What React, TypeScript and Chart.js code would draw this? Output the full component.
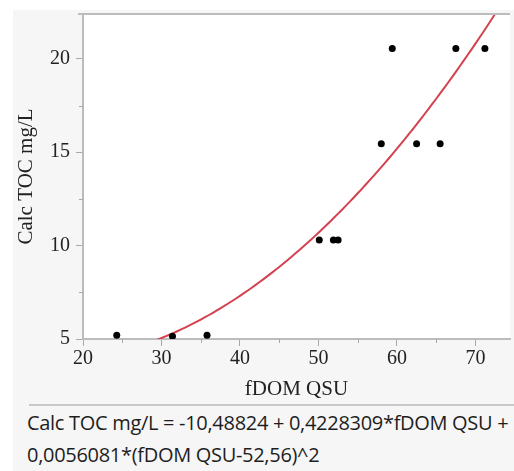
import React, { useEffect, useRef } from 'react';
import { Chart, registerables } from 'chart.js';

Chart.register(...registerables);

const fdomQsu = [24.3, 31.4, 35.8, 50.1, 51.9, 52.5, 58.0, 59.4, 62.5, 65.5, 67.5, 71.2];
const calcToc = [5.2, 5.15, 5.2, 10.3, 10.3, 10.3, 15.45, 20.55, 15.45, 15.45, 20.55, 20.55];

// Fitted quadratic model shown in the equation
const fitIntercept = -10.48824;
const fitSlope = 0.4228309;
const fitQuad = 0.0056081;
const fitCenter = 52.56;

const xMin = 20;
const xMax = 74.4;
const yMin = 5;
const yMax = 22.4;

const xMajorStep = 10;
const xMinorStep = 5;
const yMajorStep = 5;
const yMinorStep = 2.5;

const xTitle = 'fDOM QSU';
const yTitle = 'Calc TOC mg/L';
const equationLines = [
  'Calc TOC mg/L = -10,48824 + 0,4228309*fDOM QSU +',
  '0,0056081*(fDOM QSU-52,56)^2',
];

const fitCurve: { x: number; y: number }[] = [];
for (let i = 0; i <= 92; i++) {
  const x = 29 + i * 0.5;
  fitCurve.push({ x, y: fitIntercept + fitSlope * x + fitQuad * (x - fitCenter) * (x - fitCenter) });
}

const AXIS_GRAY = '#bcbcbc';
const TICK_GRAY = '#a8a8a8';
const SERIF = '"Liberation Serif", "Times New Roman", serif';

const extrasPlugin = {
  id: 'extras',
  afterDraw(chart: any) {
    const { ctx, chartArea } = chart;
    ctx.save();
    // top frame line
    ctx.strokeStyle = AXIS_GRAY;
    ctx.lineWidth = 2;
    ctx.beginPath();
    ctx.moveTo(chartArea.left - 5, chartArea.top);
    ctx.lineTo(chartArea.right, chartArea.top);
    ctx.stroke();
    // minor ticks
    ctx.strokeStyle = TICK_GRAY;
    ctx.lineWidth = 1;
    const xs = chart.scales.x;
    const ys = chart.scales.y;
    xs.ticks.forEach((t: any) => {
      if (t.value % xMajorStep !== 0) {
        const px = Math.round(xs.getPixelForValue(t.value)) + 0.5;
        ctx.beginPath();
        ctx.moveTo(px, chartArea.bottom);
        ctx.lineTo(px, chartArea.bottom + 4);
        ctx.stroke();
      }
    });
    ys.ticks.forEach((t: any) => {
      if (t.value % yMajorStep !== 0) {
        const py = Math.round(ys.getPixelForValue(t.value)) + 0.5;
        ctx.beginPath();
        ctx.moveTo(chartArea.left, py);
        ctx.lineTo(chartArea.left - 4, py);
        ctx.stroke();
      }
    });
    ctx.restore();
  },
};

export default function App() {
  const canvasRef = useRef<HTMLCanvasElement | null>(null);

  useEffect(() => {
    if (!canvasRef.current) return;
    const chart = new Chart(canvasRef.current, {
      type: 'scatter',
      data: {
        datasets: [
          {
            type: 'line',
            data: fitCurve,
            borderColor: '#d4414f',
            borderWidth: 2,
            pointRadius: 0,
            tension: 0,
            fill: false,
            clip: 0,
            order: 2,
          } as any,
          {
            type: 'scatter',
            data: fdomQsu.map((x, i) => ({ x, y: calcToc[i] })),
            backgroundColor: '#000',
            borderColor: '#000',
            pointRadius: 3.5,
            borderWidth: 0,
            order: 1,
          },
        ],
      },
      options: {
        animation: false,
        responsive: false,
        devicePixelRatio: 1,
        layout: { padding: { top: 3, right: 0, bottom: 0, left: 0 } },
        plugins: { legend: { display: false }, tooltip: { enabled: false } },
        scales: {
          x: {
            type: 'linear',
            min: xMin,
            max: xMax,
            afterFit: (s: any) => {
              s.height = 64;
              s.paddingLeft = 0;
              s.paddingRight = 0;
            },
            ticks: {
              stepSize: xMinorStep,
              includeBounds: false,
              autoSkip: false,
              maxRotation: 0,
              padding: 1,
              color: '#222',
              font: { family: SERIF, size: 20 },
              callback: (v: any) => (v % xMajorStep === 0 ? String(v) : ''),
            },
            grid: {
              drawOnChartArea: false,
              drawTicks: true,
              tickLength: 7,
              tickWidth: 1,
              tickColor: (c: any) => (c.tick && c.tick.value % xMajorStep === 0 ? TICK_GRAY : 'rgba(0,0,0,0)'),
            },
            border: { display: true, color: AXIS_GRAY, width: 2 },
            title: {
              display: true,
              text: xTitle,
              color: '#222',
              font: { family: SERIF, size: 21 },
              padding: { top: 0, bottom: 1 },
            },
          },
          y: {
            type: 'linear',
            min: yMin,
            max: yMax,
            afterFit: (s: any) => {
              s.width = 70;
              s.paddingTop = 0;
              s.paddingBottom = 0;
            },
            ticks: {
              stepSize: yMinorStep,
              includeBounds: false,
              autoSkip: false,
              padding: 6,
              color: '#222',
              font: { family: SERIF, size: 20 },
              callback: (v: any) => (v % yMajorStep === 0 ? String(v) : ''),
            },
            grid: {
              drawOnChartArea: false,
              drawTicks: true,
              tickLength: 7,
              tickWidth: 1,
              tickColor: (c: any) => (c.tick && c.tick.value % yMajorStep === 0 ? TICK_GRAY : 'rgba(0,0,0,0)'),
            },
            border: { display: true, color: AXIS_GRAY, width: 2 },
            title: {
              display: true,
              text: yTitle,
              color: '#222',
              font: { family: SERIF, size: 21 },
              padding: { top: 1, bottom: 0 },
            },
          },
        },
      },
      plugins: [
        {
          id: 'plotBg',
          beforeDraw(chart: any) {
            const { ctx, chartArea } = chart;
            ctx.save();
            ctx.fillStyle = '#ffffff';
            ctx.fillRect(chartArea.left, chartArea.top, chartArea.right - chartArea.left, chartArea.bottom - chartArea.top);
            ctx.restore();
          },
        },
        extrasPlugin,
      ],
    });
    return () => chart.destroy();
  }, []);

  return (
    <div style={{ position: 'absolute', left: 0, top: 0, width: 514, height: 471, background: '#fff', overflow: 'hidden' }}>
      <div style={{ position: 'absolute', left: 13, top: 10, width: 501, height: 461, background: '#f6f6f6' }}>
        <canvas ref={canvasRef} width={501} height={393} style={{ display: 'block', width: 501, height: 393 }} />
      </div>
      <div style={{ position: 'absolute', left: 29, top: 404, width: 485, height: 2, background: '#c8c8c8' }} />
      <div
        style={{
          position: 'absolute',
          left: 27,
          top: 407,
          width: 487,
          fontFamily: '"Open Sans", "Noto Sans", sans-serif',
          fontSize: 20,
          lineHeight: '32px',
          color: '#1e1e1e',
          whiteSpace: 'nowrap',
          letterSpacing: -0.3,
        }}
      >
        {equationLines.map((l, i) => (
          <div key={i}>{l}</div>
        ))}
      </div>
    </div>
  );
}
